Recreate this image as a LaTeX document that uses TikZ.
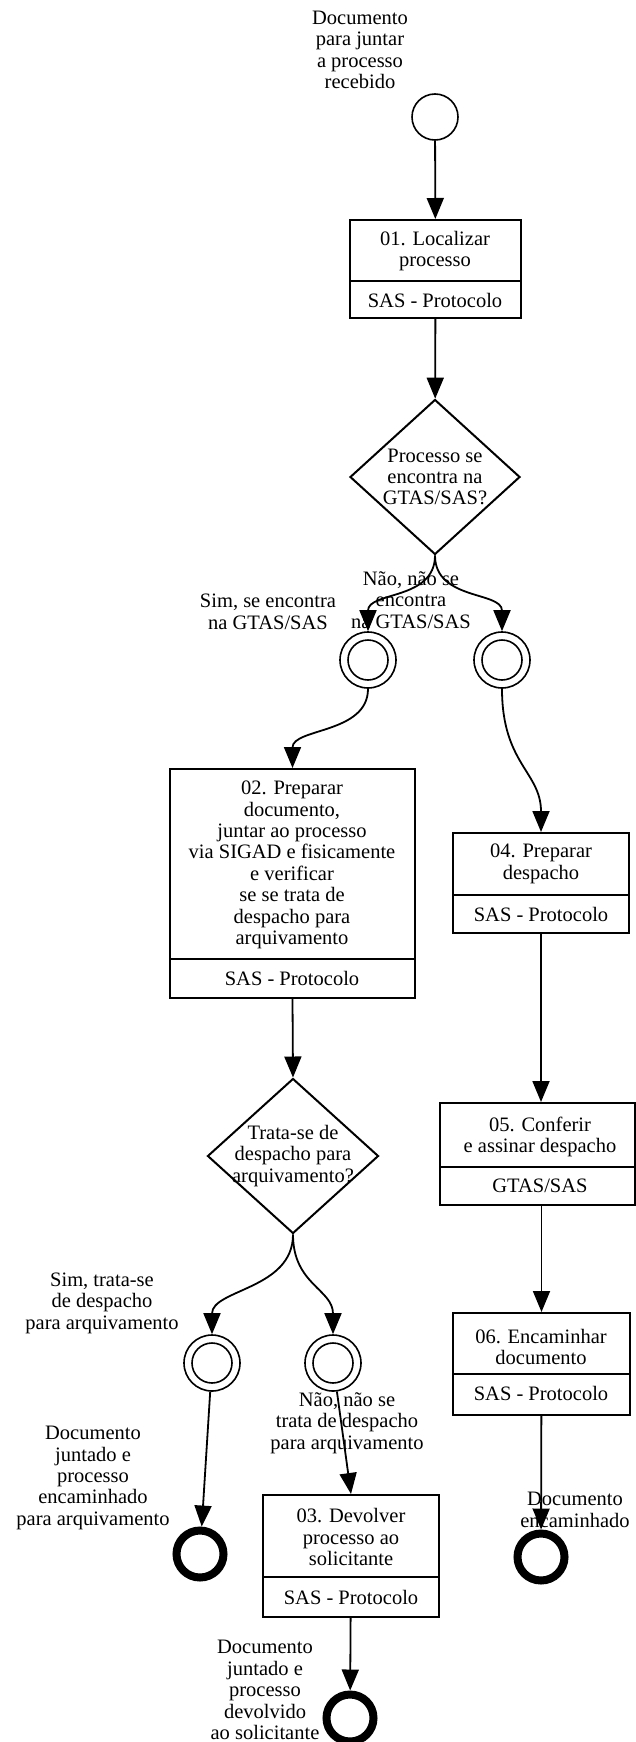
\documentclass[tikz,border=0pt]{standalone}
\usepackage{fontspec}
\setmainfont{Liberation Serif}
\usetikzlibrary{arrows.meta,shapes.geometric}
\tikzset{
  lbl/.style={font=\fontsize{20.5}{21.4}\selectfont, align=center, inner sep=0pt},
  taskbox/.style={draw, line width=2pt, rectangle, inner sep=0pt},
  divider/.style={line width=2pt},
  decision/.style={draw, line width=2pt, diamond, inner sep=0pt},
  startev/.style={draw, line width=1.6pt, circle, minimum size=46pt, inner sep=0pt},
  midev/.style={draw, line width=1.6pt, circle, minimum size=56pt, inner sep=0pt},
  innerring/.style={line width=1.6pt},
  endev/.style={draw, line width=8pt, circle, minimum size=47pt, inner sep=0pt},
  flow/.style={line width=1.8pt, -{Triangle[length=21pt,width=17pt]}},
}
\begin{document}
\begin{tikzpicture}[x=1pt,y=-1pt]
\fill[white] (0,0) rectangle (636,1742);
\useasboundingbox (0,0) rectangle (636,1742);

% start
\node[startev] (s) at (435,117) {};
\node[lbl] (slbl) at (360,50) {Documento\\para juntar\\a processo\\recebido};

% task 01
\node[taskbox, minimum width=171pt, minimum height=98pt] (t1) at (435.5,269) {};
\draw[divider] (350,281) -- (521,281);
\node[lbl] (t1a) at (435,251) {01. Localizar\\processo};
\node[lbl] (t1b) at (435,300) {SAS - Protocolo};

% decision 1
\node[decision, minimum width=170pt, minimum height=155pt] (d1) at (435,477) {};
\node[lbl] (d1a) at (435,477) {Processo se\\encontra na\\GTAS/SAS?};

% intermediate events 1,2
\node[midev] (g1) at (368,660) {};
\draw[innerring] (g1.center) circle[radius=20pt];
\node[midev] (g2) at (502,660) {};
\draw[innerring] (g2.center) circle[radius=20pt];
\node[lbl] (g1l) at (268,612) {Sim, se encontra\\na GTAS/SAS};
\node[lbl] (g2l) at (411,600) {Não, não se\\encontra\\na GTAS/SAS};

% task 02
\node[taskbox, minimum width=245pt, minimum height=229pt] (t2) at (292.5,883.5) {};
\draw[divider] (170,959) -- (415,959);
\node[lbl] (t2a) at (292,865) {02. Preparar\\documento,\\juntar ao processo\\via SIGAD e fisicamente\\e verificar\\se se trata de\\despacho para\\arquivamento};
\node[lbl] (t2b) at (292,978) {SAS - Protocolo};

% task 04
\node[taskbox, minimum width=176pt, minimum height=100pt] (t4) at (541,883) {};
\draw[divider] (453,895) -- (629,895);
\node[lbl] (t4a) at (541,864) {04. Preparar\\despacho};
\node[lbl] (t4b) at (541,914) {SAS - Protocolo};

% decision 2
\node[decision, minimum width=171pt, minimum height=155pt] (d2) at (293,1156) {};
\node[lbl] (d2a) at (293,1156) {Trata-se de\\despacho para\\arquivamento?};

% intermediate events 3,4
\node[midev] (g3) at (212,1363) {};
\draw[innerring] (g3.center) circle[radius=20pt];
\node[midev] (g4) at (333,1363) {};
\draw[innerring] (g4.center) circle[radius=20pt];
\node[lbl] (g3l) at (102,1303) {Sim, trata-se\\de despacho\\para arquivamento};
\node[lbl] (g4l) at (347,1423) {Não, não se\\trata de despacho\\para arquivamento};

% task 05
\node[taskbox, minimum width=195pt, minimum height=102pt] (t5) at (537.5,1154) {};
\draw[divider] (440,1167) -- (635,1167);
\node[lbl] (t5a) at (540,1137) {05. Conferir\\e assinar despacho};
\node[lbl] (t5b) at (540,1186) {GTAS/SAS};

% task 06
\node[taskbox, minimum width=177pt, minimum height=102pt] (t6) at (541.5,1364) {};
\draw[divider] (453,1374) -- (630,1374);
\node[lbl] (t6a) at (541,1347) {06. Encaminhar\\documento};
\node[lbl] (t6b) at (541,1393) {SAS - Protocolo};

% task 03
\node[taskbox, minimum width=176pt, minimum height=122pt] (t3) at (351,1556) {};
\draw[divider] (263,1577) -- (439,1577);
\node[lbl] (t3a) at (351,1537) {03. Devolver\\processo ao\\solicitante};
\node[lbl] (t3b) at (351,1597) {SAS - Protocolo};

% end events
\node[endev] (e1) at (200,1554) {};
\node[lbl] (e1l) at (93,1478) {Documento\\juntado e\\processo\\encaminhado\\para arquivamento};
\node[endev] (e2) at (541,1557) {};
\node[lbl] (e2l) at (575,1510) {Documento\\encaminhado};
\node[endev] (e3) at (350,1718) {};
\node[lbl] (e3l) at (265,1690) {Documento\\juntado e\\processo\\devolvido\\ao solicitante};

% flows
\draw[flow] (s) -- (t1);
\draw[flow] (t1) -- (d1);
\draw[flow] (d1.south) .. controls +(0,45) and +(0,-40) .. (g1.north);
\draw[flow] (d1.south) .. controls +(0,45) and +(0,-40) .. (g2.north);
\draw[flow] (g1.south) .. controls +(0,45) and +(0,-40) .. (t2.north);
\draw[flow] (g2.south) .. controls +(0,75) and +(0,-60) .. (t4.north);
\draw[flow] (t2.south) -- (d2.north);
\draw[flow] (d2.south) .. controls +(0,55) and +(0,-45) .. (g3.north);
\draw[flow] (d2.south) .. controls +(0,50) and +(0,-45) .. (g4.north);
\draw[flow] (g3) -- (e1);
\draw[flow] (g4) -- (t3.north);
\draw[flow] (t4.south) -- (t4.south |- t5.north);
\draw[flow] (t6.north |- t5.south) -- (t6.north);
\draw[flow] (t6) -- (e2);
\draw[flow] (t3) -- (e3);
\end{tikzpicture}
\end{document}
